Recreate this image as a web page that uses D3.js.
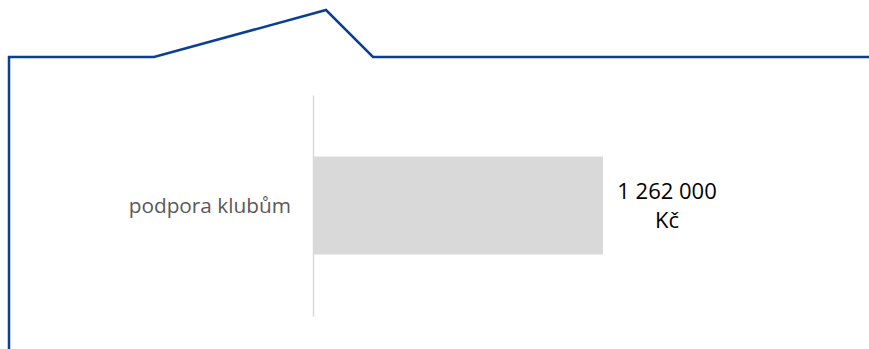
<!DOCTYPE html>
<html lang="cs">
  <head>
    <meta charset="utf-8">
    <title>podpora klubům</title>
    <script src="https://d3js.org/d3.v7.min.js"></script>
    <style>
      body { margin: 0; background: #fff; }
      .catLabel { font-family: "Open Sans", sans-serif; font-size: 20.8px; fill: #595959; }
      .valLabel { font-family: "Open Sans", sans-serif; font-size: 22px; fill: #000; }
    </style>
  </head>
  <body>
    <script>
      // data
      var categories = ["podpora klubům"];
      var values = [1262000];
      var valueLabels = ["1 262 000", "Kč"];

      var outerWidth = 869,
        outerHeight = 349;

      var svg = d3.select("body")
        .append("svg")
        .attr("width", outerWidth)
        .attr("height", outerHeight);

      // decorative blue outline at the top
      var frame = [[9, 349], [9, 57], [154, 57], [326, 10], [373, 57], [869, 57]];
      svg.append("path")
        .attr("d", d3.line()(frame))
        .attr("fill", "none")
        .attr("stroke", "#0b3f94")
        .attr("stroke-width", 2.5)
        .attr("stroke-linejoin", "miter");

      // scales
      var xScale = d3.scaleLinear()
        .domain([0, 2293000])
        .range([313, 840]);

      var yScale = d3.scaleBand()
        .domain(categories)
        .range([95, 316])
        .padding(0.3856);

      // bars
      svg.selectAll("rect.bar")
        .data(values)
        .enter()
        .append("rect")
        .attr("class", "bar")
        .attr("x", xScale(0))
        .attr("y", function(d, i) { return yScale(categories[i]); })
        .attr("width", function(d) { return xScale(d) - xScale(0); })
        .attr("height", yScale.bandwidth())
        .attr("fill", "#d9d9d9");

      // vertical axis line
      var yAxis = d3.axisLeft(yScale).tickSize(0).tickFormat("");
      var axisG = svg.append("g")
        .attr("transform", "translate(" + xScale(0) + ",0)")
        .call(yAxis);
      axisG.select(".domain").attr("stroke", "#d9d9d9").attr("stroke-width", 1.5);

      // category labels
      svg.selectAll("text.catLabel")
        .data(categories)
        .enter()
        .append("text")
        .attr("class", "catLabel")
        .attr("x", xScale(0) - 22)
        .attr("y", function(d) { return yScale(d) + yScale.bandwidth() / 2; })
        .attr("dy", "0.35em")
        .attr("text-anchor", "end")
        .text(function(d) { return d; });

      // value labels (two lines)
      values.forEach(function(v, i) {
        var cx = xScale(v) + 64;
        var t = svg.append("text")
          .attr("class", "valLabel")
          .attr("text-anchor", "middle")
          .attr("x", cx)
          .attr("y", 199);
        t.append("tspan")
          .attr("x", cx)
          .text(valueLabels[0]);
        t.append("tspan")
          .attr("x", cx)
          .attr("dy", 29)
          .text(valueLabels[1]);
      });
    </script>
  </body>
</html>
